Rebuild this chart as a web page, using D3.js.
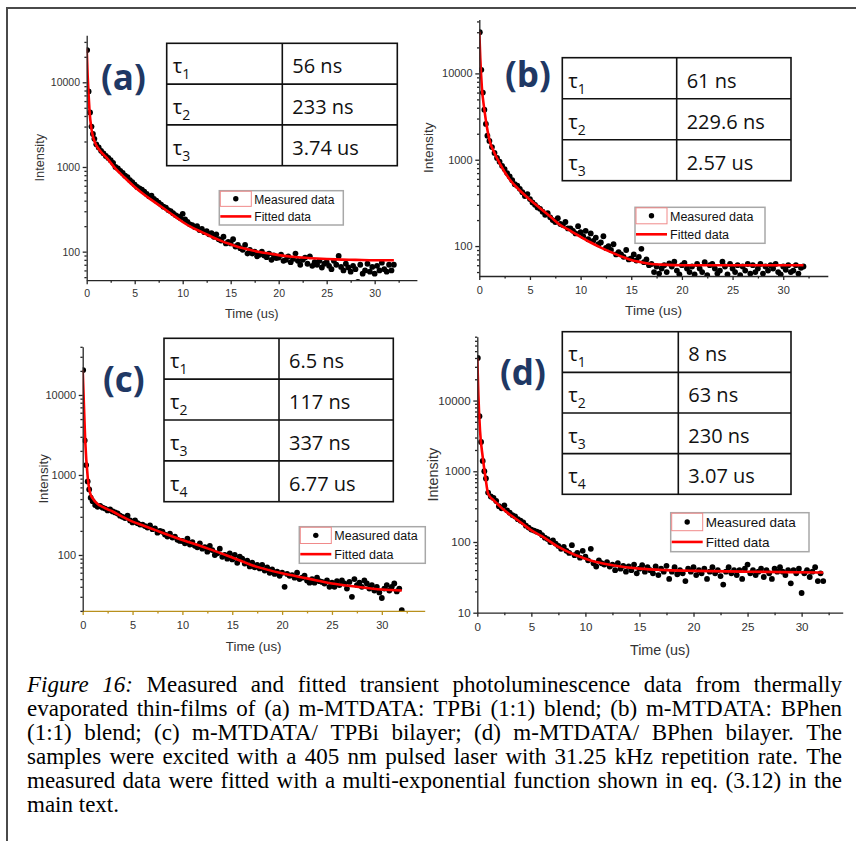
<!DOCTYPE html>
<html><head><meta charset="utf-8">
<script src="https://cdn.jsdelivr.net/npm/d3@7"></script>
<style>body{margin:0;background:#fff}svg{display:block}</style>
</head><body>
<svg id="c" width="856" height="841"></svg>
<script>
// ---------- DATA ----------
const times = [0.05,0.2,0.35,0.5,0.65,0.8,
1,1.25,1.5,1.75, 2,2.25,2.5,2.75, 3,3.25,3.5,3.75, 4,4.25,4.5,4.75,
5,5.25,5.5,5.75, 6,6.25,6.5,6.75, 7,7.25,7.5,7.75, 8,8.25,8.5,8.75,
9,9.25,9.5,9.75, 10,10.25,10.5,10.75, 11,11.25,11.5,11.75, 12,12.25,12.5,12.75,
13,13.25,13.5,13.75, 14,14.25,14.5,14.75, 15,15.25,15.5,15.75, 16,16.25,16.5,16.75,
17,17.25,17.5,17.75, 18,18.25,18.5,18.75, 19,19.25,19.5,19.75, 20,20.25,20.5,20.75,
21,21.25,21.5,21.75, 22,22.25,22.5,22.75, 23,23.25,23.5,23.75, 24,24.25,24.5,24.75,
25,25.25,25.5,25.75, 26,26.25,26.5,26.75, 27,27.25,27.5,27.75, 28,28.25,28.5,28.75,
29,29.25,29.5,29.75, 30,30.25,30.5,30.75, 31,31.25,31.5,31.75, 32];

const measuredA = [24000,7800,4400,3000,2450,2150,
1850,1700,1550,1450, 1350,1280,1200,1120, 1000,960,900,850, 790,760,700,660,
620,580,560,540, 510,480,450,460, 420,400,380,360, 340,330,310,300,
285,270,260,250, 280,240,225,210, 205,195,200,180, 185,170,175,160,
165,150,160,140, 135,150,125,130, 125,140,115,120, 110,105,120,95,
105,95,100,88, 92,100,90,86, 95,80,90,84, 85,92,78,80,
88,75,82,95, 78,70,80,85, 72,88,68,75, 70,78,65,72,
75,68,62,78, 70,89,66,60, 72,65,58,68, 62,44,70,55,
60,72,58,66, 55,68,60,74, 62,58,70,60, 70];

const measuredB = [30000,11000,6000,3800,2600,1900,
1650,1400,1200,1050, 950,850,780,700, 640,580,520,500, 460,420,380,400,
350,320,300,280, 270,250,230,240, 215,200,190,210, 180,175,190,160,
160,150,140,170, 145,130,150,120, 140,115,125,105, 110,130,95,100,
90,105,80,85, 80,75,90,70, 72,80,68,75, 93,65,70,60,
62,50,58,48, 55,60,50,63, 58,66,52,47, 60,64,55,50,
58,47,62,55, 50,65,46,60, 62,55,48,52, 66,58,47,62,
55,50,60,46, 58,52,62,48, 60,50,55,62, 48,58,52,60,
55,62,50,47, 58,53,60,50, 52,60,48,56, 58];

const measuredC = [20500,2700,1330,830,660,520,
470,420,400,410, 390,380,360,370, 350,340,330,310, 300,290,310,270,
255,270,250,240, 240,230,220,235, 210,215,190,200, 195,180,170,185,
165,170,155,150, 150,140,160,135, 145,130,125,140, 120,125,110,130,
115,100,105,120, 95,100,90,105, 88,100,80,95, 90,78,85,72,
80,70,75,68, 75,64,70,60, 66,58,62,55, 60,40,58,55,
56,52,60,50, 52,55,48,45, 50,45,52,47, 46,44,48,40,
45,40,47,42, 48,44,38,46, 30,50,42,45, 40,48,44,38,
42,36,40,34, 29,38,42,36, 40,44,35,38, 20.5];

const measuredD = [40000,6000,2600,1400,1000,790,
500,440,420,380, 320,300,330,280, 260,240,230,210, 200,190,170,160,
150,145,140,135, 125,115,110,100, 105,95,88,80, 85,75,70,90,
65,70,60,75, 62,55,80,50, 45,55,50,48, 52,45,48,40,
50,42,46,38, 45,40,48,36, 42,47,38,44, 40,36,45,34,
42,38,46,30, 38,44,35,40, 36,28,42,38, 44,34,40,36,
42,30,38,44, 36,40,33,25, 38,44,36,40, 34,40,30,42,
48,36,40,34, 38,42,32,40, 36,30,42,38, 44,38,34,40,
26,40,36,42, 19,36,40,32, 38,44,28,36, 28];

const fitTimeA = [0,0.1,0.2,0.3,0.5,0.75,1,1.5,2,3,4,5,6,7,8,9,10,11,12,13,14,15,16,17,18,19,20,22,24,26,28,30,32];
const fitA     = [25000,12000,7000,4500,2800,2100,1800,1500,1313,955,740,581,470,390,325,270,224,192,170,150,134,122,112,105,99,95,91,86,83,81,80,79,79];

const fitTimeB = [0,0.1,0.25,0.5,0.75,1,1.5,2,3,4,5,6,7,8,9,10,11,12,13,14,15,16,17,18,20,25,32];
const fitB     = [30400,15000,7000,3800,2400,1700,1200,915,590,440,344,275,220,175,150,128,110,96,85,76,69,65,62,61,60,60,60];

const fitTimeC = [0,0.1,0.25,0.5,0.75,1,1.5,2,2.5,3,4,5,6,7.5,10,12.5,15,17.5,20,22.5,25,27.5,30,32];
const fitC     = [20600,9000,2740,950,590,510,434,400,372,350,300,261,235,200,154,121,93,71,59,51,44,40,37,36];

const fitTimeD = [0,0.1,0.25,0.5,0.75,1,1.5,2,2.5,3,4,5,6,7.5,9,10,11,12.5,15,17.5,20,25,32];
const fitD     = [39700,12000,3800,1600,830,483,390,330,280,245,190,146,120,85,66,58,52,47,42,40,39,38,37];

const xTicks = [0,5,10,15,20,25,30];
const xMinorTicks = [2.5,7.5,12.5,17.5,22.5,27.5,32.5];
const yTicksABC = [100,1000,10000];
const yTicksD = [10,100,1000,10000];

const panelLabels = ["(a)","(b)","(c)","(d)"];
const tauSubsA = ["1","2","3"];       const tauValsA = ["56 ns","233 ns","3.74 us"];
const tauSubsB = ["1","2","3"];       const tauValsB = ["61 ns","229.6 ns","2.57 us"];
const tauSubsC = ["1","2","3","4"];   const tauValsC = ["6.5 ns","117 ns","337 ns","6.77 us"];
const tauSubsD = ["1","2","3","4"];   const tauValsD = ["8 ns","63 ns","230 ns","3.07 us"];
const legendLabels = ["Measured data","Fitted data"];
const xTitle = "Time (us)", yTitle = "Intensity";

const captionLines = [
  [["Figure 16:", true], [" Measured and fitted transient photoluminescence data from thermally", false]],
  [["evaporated thin-films of (a) m-MTDATA: TPBi (1:1) blend; (b) m-MTDATA: BPhen", false]],
  [["(1:1) blend; (c) m-MTDATA/ TPBi bilayer; (d) m-MTDATA/ BPhen bilayer. The", false]],
  [["samples were excited with a 405 nm pulsed laser with 31.25 kHz repetition rate. The", false]],
  [["measured data were fitted with a multi-exponential function shown in eq. (3.12) in the", false]],
  [["main text.", false]]
];

// ---------- LAYOUT ----------
const panels = [
  {label:panelLabels[0], meas:measuredA, fT:fitTimeA, fV:fitA, xDom:[0,34.4], xR:[86.7,416.9], yDom:[46,36000], yR:[280.2,35.2], yTicks:yTicksABC,
   subs:tauSubsA, vals:tauValsA, tb:{l:166.7,t:43.3,r:397.3,b:165.7,d:282.3}, lab:{x:101,y:90},
   leg:{l:219.3,t:190.7,w:124,h:34.3,fs:12}, tfs:10.5, ttfs:12.8, yTitleX:44, xTitleY:318, xColor:"#262626", xLblOff:17},
  {label:panelLabels[1], meas:measuredB, fT:fitTimeB, fV:fitB, xDom:[0,34.4], xR:[479.3,827.8], yDom:[45,42000], yR:[276,19.6], yTicks:yTicksABC,
   subs:tauSubsB, vals:tauValsB, tb:{l:562.3,t:57.7,r:791,b:180.7,d:676.7}, lab:{x:505,y:87},
   leg:{l:635,t:207.3,w:130,h:36,fs:12.5}, tfs:11, ttfs:13.6, yTitleX:433, xTitleY:315, xColor:"#262626", xLblOff:18},
  {label:panelLabels[2], meas:measuredC, fT:fitTimeC, fV:fitC, xDom:[0,34.3], xR:[82.7,424.7], yDom:[20,40000], yR:[610.9,346.8], yTicks:yTicksABC,
   subs:tauSubsC, vals:tauValsC, tb:{l:164,t:338.3,r:393.3,b:501.7,d:279}, lab:{x:103,y:392},
   leg:{l:299.3,t:526.7,w:126,h:36.6,fs:12.5}, tfs:11, ttfs:13.3, yTitleX:48, xTitleY:651, xColor:"#b8901c", xLblOff:18},
  {label:panelLabels[3], meas:measuredD, fT:fitTimeD, fV:fitD, xDom:[0,33.8], xR:[477.3,842.7], yDom:[10,80000], yR:[612.7,336.7], yTicks:yTicksD,
   subs:tauSubsD, vals:tauValsD, tb:{l:562.3,t:331.7,r:791,b:494.3,d:678.3}, lab:{x:500,y:385},
   leg:{l:670.7,t:512.7,w:138.3,h:39,fs:13.5}, tfs:11.6, ttfs:14.4, yTitleX:438, xTitleY:655, xColor:"#262626", xLblOff:18.5}
];

const svg = d3.select("#c");
const SANS = "'Liberation Sans', Arial, sans-serif";
const TAB = "'Open Sans', sans-serif";

svg.append("rect").attr("x",7).attr("y",8).attr("width",900).attr("height",900)
  .attr("fill","none").attr("stroke","#4a4a4a").attr("stroke-width",2);

panels.forEach((p,i)=>{
  const x = d3.scaleLinear().domain(p.xDom).range(p.xR);
  const y = d3.scaleLog().domain(p.yDom).range(p.yR);
  const g = svg.append("g");
  const cid = "clip"+i;
  svg.append("clipPath").attr("id",cid).append("rect")
    .attr("x",p.xR[0]).attr("y",p.yR[1]).attr("width",p.xR[1]-p.xR[0]).attr("height",p.yR[0]-p.yR[1]);
  const plot = g.append("g").attr("clip-path",`url(#${cid})`);
  plot.selectAll("circle").data(times.map((t,j)=>[t,p.meas[j]])).join("circle")
    .attr("cx",d=>x(d[0])).attr("cy",d=>y(d[1])).attr("r",2.9).attr("fill","#000");
  plot.append("path").datum(p.fT.map((t,j)=>[t,p.fV[j]]))
    .attr("d", d3.line().x(d=>x(d[0])).y(d=>y(d[1])).curve(d3.curveMonotoneX))
    .attr("fill","none").attr("stroke","#ff0000").attr("stroke-width",2.6);

  const xa = g.append("g").attr("transform",`translate(0,${p.yR[0]})`);
  xa.call(d3.axisBottom(x).tickValues(xTicks).tickSize(4).tickSizeOuter(0)
      .tickPadding(p.xLblOff - 0.71*p.tfs - 4).tickFormat(d3.format("d")));
  xa.append("g").call(d3.axisBottom(x).tickValues(xMinorTicks.filter(v=>v<=p.xDom[1])).tickSize(2.5).tickSizeOuter(0).tickFormat(""))
    .select(".domain").remove();
  xa.selectAll("path,line").attr("stroke",p.xColor).attr("stroke-width",1.3);
  xa.selectAll("text").attr("font-family",SANS).attr("font-size",p.tfs).attr("fill","#333");

  const ya = g.append("g").attr("transform",`translate(${p.xR[0]},0)`);
  ya.call(d3.axisLeft(y).tickValues(p.yTicks).tickSize(4).tickSizeOuter(0).tickPadding(2.7).tickFormat(d3.format("d")));
  const minors = [];
  const lo = Math.floor(Math.log10(p.yDom[0])), hi = Math.ceil(Math.log10(p.yDom[1]));
  for (let e=lo;e<hi;e++) for (let m=2;m<=9;m++){const v=m*Math.pow(10,e); if(v>=p.yDom[0]&&v<=p.yDom[1]) minors.push(v);}
  ya.append("g").call(d3.axisLeft(y).tickValues(minors).tickSize(2.3).tickSizeOuter(0).tickFormat(""))
    .select(".domain").remove();
  ya.selectAll("path,line").attr("stroke","#262626").attr("stroke-width",1.3);
  ya.selectAll("text").attr("font-family",SANS).attr("font-size",p.tfs).attr("fill","#333");

  g.append("text").attr("x",(p.xR[0]+p.xR[1])/2).attr("y",p.xTitleY).attr("text-anchor","middle")
    .attr("font-family",SANS).attr("font-size",p.ttfs).attr("fill","#333").text(xTitle);
  g.append("text").attr("transform",`translate(${p.yTitleX},${(p.yR[0]+p.yR[1])/2}) rotate(-90)`).attr("text-anchor","middle")
    .attr("font-family",SANS).attr("font-size",p.ttfs).attr("fill","#333").text(yTitle);

  g.append("text").attr("x",p.lab.x).attr("y",p.lab.y).attr("font-family",TAB).attr("font-weight",700)
    .attr("font-size",35).attr("fill","#1f3864").text(p.label);

  const tb = p.tb, n = p.subs.length, rh = (tb.b-tb.t)/n;
  const tg = g.append("g");
  tg.append("rect").attr("x",tb.l).attr("y",tb.t).attr("width",tb.r-tb.l).attr("height",tb.b-tb.t)
    .attr("fill","#fff").attr("stroke","#111").attr("stroke-width",1.6);
  tg.append("line").attr("x1",tb.d).attr("x2",tb.d).attr("y1",tb.t).attr("y2",tb.b).attr("stroke","#111").attr("stroke-width",1.6);
  for (let r=1;r<n;r++) tg.append("line").attr("x1",tb.l).attr("x2",tb.r).attr("y1",tb.t+r*rh).attr("y2",tb.t+r*rh).attr("stroke","#111").attr("stroke-width",1.6);
  p.subs.forEach((s,r)=>{
    const by = tb.t + r*rh + rh*0.73;
    const t1 = tg.append("text").attr("x",tb.l+6).attr("y",by).attr("font-family",TAB).attr("font-size",20).attr("fill","#111");
    t1.append("tspan").text("τ");
    t1.append("tspan").attr("dy",6).attr("font-size",14).text(s);
    tg.append("text").attr("x",tb.d+10).attr("y",by).attr("font-family",TAB).attr("font-size",20).attr("fill","#111").text(p.vals[r]);
  });

  const L = p.leg;
  const lg = g.append("g");
  lg.append("rect").attr("x",L.l).attr("y",L.t).attr("width",L.w).attr("height",L.h).attr("fill","#fff")
    .attr("stroke","#a8a8a8").attr("stroke-width",1.5);
  const sw = 31, half = L.h/2;
  lg.append("rect").attr("x",L.l+1).attr("y",L.t+0.5).attr("width",sw).attr("height",half-2)
    .attr("fill","none").attr("stroke","#f08a8a").attr("stroke-width",1);
  lg.append("circle").attr("cx",L.l+1+sw/2).attr("cy",L.t+half/2-0.5).attr("r",2.7).attr("fill","#000");
  lg.append("line").attr("x1",L.l+1).attr("x2",L.l+1+sw).attr("y1",L.t+half*1.5).attr("y2",L.t+half*1.5)
    .attr("stroke","#ff0000").attr("stroke-width",2.6);
  legendLabels.forEach((s,k)=>{
    lg.append("text").attr("x",L.l+sw+4).attr("y",L.t+half*(k+0.5)).attr("dy","0.36em")
      .attr("font-family",SANS).attr("font-size",L.fs).attr("fill","#111").text(s);
  });
});

// caption, justified by distributing word gaps
const SERIF = "'Liberation Serif','Times New Roman',serif";
const capX = 27, capW = 815, capY0 = 692, capDY = 23.9;
let capFs = 23;
const cg = svg.append("g");
function layoutCaption(fs){
  cg.selectAll("*").remove();
  let minGap = Infinity;
  captionLines.forEach((segs,k)=>{
    const words = [];
    segs.forEach(([s,it])=> s.split(" ").filter(w=>w.length).forEach(w=>words.push({w,it})));
    const t = cg.append("text").attr("y",capY0+k*capDY).attr("font-family",SERIF).attr("font-size",fs).attr("fill","#000");
    const spans = words.map(o=>t.append("tspan").attr("font-style",o.it?"italic":"normal").text(o.w));
    const widths = spans.map(sp=>sp.node().getComputedTextLength());
    const gap = k<captionLines.length-1 ? (capW-d3.sum(widths))/(words.length-1) : fs*0.25;
    minGap = Math.min(minGap,gap);
    let cx = capX;
    spans.forEach((sp,j)=>{ sp.attr("x",cx); cx += widths[j]+gap; });
  });
  return minGap;
}
let mg = layoutCaption(capFs);
while (mg < capFs*0.2 && capFs > 15) { capFs -= 0.25; mg = layoutCaption(capFs); }
</script>
</body></html>
